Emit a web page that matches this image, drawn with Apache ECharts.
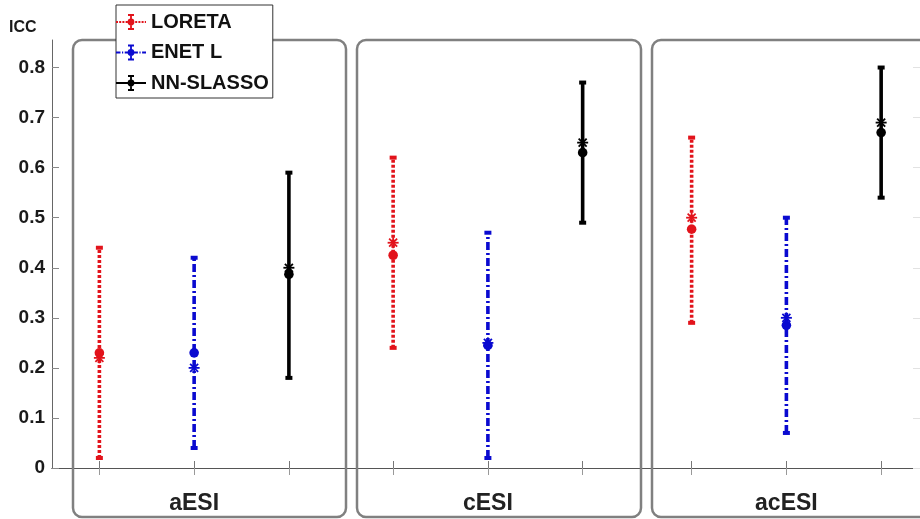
<!DOCTYPE html>
<html>
<head>
<meta charset="utf-8">
<title>ICC by method</title>
<script src="https://cdn.jsdelivr.net/npm/echarts@6/dist/echarts.min.js"></script>
<style>
  html, body { margin: 0; padding: 0; background: #fff; }
  #chart { width: 920px; height: 519px; }
</style>
</head>
<body>
<div id="chart"></div>
<script>
// groups shown in the three boxes
const groups = ['aESI', 'cESI', 'acESI'];
const methods = ['LORETA', 'ENET L', 'NN-SLASSO'];
const yTicks = [0, 0.1, 0.2, 0.3, 0.4, 0.5, 0.6, 0.7, 0.8];

// x position of each error bar on the shared axis
const loretaX = [1, 4.1, 7.25];
const enetX = [2, 5.1, 8.25];
const nnX = [3, 6.1, 9.25];

// ICC: lower end, upper end, mean (dot), median (asterisk)
const loretaLow = [0.02, 0.24, 0.29];
const loretaHigh = [0.44, 0.62, 0.66];
const loretaMean = [0.23, 0.425, 0.477];
const loretaMedian = [0.22, 0.45, 0.50];

const enetLow = [0.04, 0.02, 0.07];
const enetHigh = [0.42, 0.47, 0.50];
const enetMean = [0.23, 0.245, 0.285];
const enetMedian = [0.20, 0.25, 0.30];

const nnLow = [0.18, 0.49, 0.54];
const nnHigh = [0.59, 0.77, 0.80];
const nnMean = [0.387, 0.63, 0.67];
const nnMedian = [0.40, 0.65, 0.69];

const colors = ['#e2131b', '#0a0ad0', '#000000'];
const dashes = [[3, 2], [8, 3, 2, 3], null];
const FONT = 'Liberation Sans, Arial, sans-serif';

const allX = loretaX.concat(enetX, nnX);

function rows(xs, low, high, mean, med) {
  return xs.map((x, i) => [x, low[i], high[i], mean[i], med[i]]);
}

// legend icon: error bar drawn over a short line in the series' style
function rect(x, y, w, h) {
  return `M${x} ${y}h${w}v${h}h${-w}z`;
}
function legendIcon(pattern) {
  let p = '';
  let x = 0, k = 0;
  while (x < 30) {
    const on = pattern ? pattern[k % pattern.length] : 30;
    const off = pattern ? pattern[(k + 1) % pattern.length] : 0;
    p += rect(x, 6.9, Math.min(on, 30 - x), 2.2);
    x += on + off;
    k += 2;
  }
  p += rect(14.1, 1, 1.8, 14);
  p += rect(12, 0, 6, 2);
  p += rect(12, 14, 6, 2);
  p += 'M11.6 8a3.4 3.4 0 1 1 6.8 0a3.4 3.4 0 1 1 -6.8 0z';
  return 'path://' + p;
}
const iconPatterns = [[2, 1.2], [4.5, 1.5, 1.2, 1.5], null];

function errorBar(idx) {
  const color = colors[idx];
  return function (params, api) {
    const x = api.value(0);
    const lo = api.coord([x, api.value(1)]);
    const hi = api.coord([x, api.value(2)]);
    const mn = api.coord([x, api.value(3)]);
    const md = api.coord([x, api.value(4)]);
    const a = 5.5, d = 4;
    const star = [[-a, 0, a, 0], [0, -a, 0, a], [-d, -d, d, d], [-d, d, d, -d]].map(s => ({
      type: 'line',
      shape: { x1: md[0] + s[0], y1: md[1] + s[1], x2: md[0] + s[2], y2: md[1] + s[3] },
      style: { stroke: color, lineWidth: 1.8 }
    }));
    return {
      type: 'group',
      children: [
        {
          type: 'line',
          shape: { x1: lo[0], y1: lo[1], x2: hi[0], y2: hi[1] },
          style: { stroke: color, lineWidth: 3.6, lineDash: dashes[idx] }
        },
        { type: 'rect', shape: { x: hi[0] - 3.5, y: hi[1] - 2, width: 7, height: 4 }, style: { fill: color } },
        { type: 'rect', shape: { x: lo[0] - 3.5, y: lo[1] - 2, width: 7, height: 4 }, style: { fill: color } },
        { type: 'circle', shape: { cx: mn[0], cy: mn[1], r: 4.8 }, style: { fill: color } }
      ].concat(star)
    };
  };
}

const seriesData = [
  rows(loretaX, loretaLow, loretaHigh, loretaMean, loretaMedian),
  rows(enetX, enetLow, enetHigh, enetMean, enetMedian),
  rows(nnX, nnLow, nnHigh, nnMean, nnMedian)
];

const chart = echarts.init(document.getElementById('chart'));

const xRange = { min: 0.5, max: 9.66 };
const yRange = { min: 0, max: 0.855, interval: 0.1 };

const option = {
  animation: false,
  textStyle: { fontFamily: FONT },
  grid: { left: 52, top: 40, width: 870, height: 428 },
  legend: {
    orient: 'vertical',
    left: 116,
    top: 5,
    padding: [7, 4, 5, 0],
    itemGap: 10.5,
    itemWidth: 30,
    itemHeight: 16,
    backgroundColor: '#fff',
    borderColor: '#333',
    borderWidth: 1,
    z: 20,
    textStyle: { fontFamily: FONT, fontWeight: 'bold', fontSize: 20, color: '#111' },
    data: methods.map((m, i) => ({ name: m, icon: legendIcon(iconPatterns[i]) }))
  },
  xAxis: [
    {
      type: 'value',
      position: 'bottom',
      min: xRange.min,
      max: xRange.max,
      axisLine: { show: true, onZero: false, lineStyle: { color: '#555', width: 1 } },
      axisTick: { show: true, inside: true, length: 7, customValues: allX, lineStyle: { color: '#777' } },
      axisLabel: {
        show: true,
        customValues: enetX,
        margin: 24,
        fontSize: 23,
        fontWeight: 'bold',
        color: '#222',
        formatter: v => {
          const i = enetX.findIndex(e => Math.abs(e - v) < 1e-6);
          return i >= 0 ? groups[i] : '';
        }
      },
      splitLine: { show: false }
    },
    {
      type: 'value',
      position: 'top',
      min: xRange.min,
      max: xRange.max,
      axisLine: { show: true, lineStyle: { color: '#555', width: 1 } },
      axisTick: { show: true, inside: true, length: 7, customValues: allX, lineStyle: { color: '#999' } },
      axisLabel: { show: false },
      splitLine: { show: false }
    }
  ],
  yAxis: [
    {
      type: 'value',
      min: yRange.min,
      max: yRange.max,
      interval: yRange.interval,
      axisLine: { show: true, lineStyle: { color: '#666', width: 1 } },
      axisTick: { show: true, inside: true, length: 7, lineStyle: { color: '#888' } },
      axisLabel: {
        margin: 7,
        fontSize: 19,
        fontWeight: 'bold',
        color: '#1a1a1a',
        showMaxLabel: false,
        formatter: v => {
          const t = yTicks.find(t => Math.abs(t - v) < 1e-6);
          if (t === undefined) return '';
          return t === 0 ? '0' : t.toFixed(1);
        }
      },
      splitLine: { show: false }
    },
    {
      type: 'value',
      position: 'right',
      min: yRange.min,
      max: yRange.max,
      interval: yRange.interval,
      axisLine: { show: false },
      axisTick: { show: true, inside: true, length: 7, lineStyle: { color: '#e2e2e2' } },
      axisLabel: { show: false },
      splitLine: { show: false }
    }
  ],
  graphic: [
    { type: 'rect', z: 5, shape: { x: 73, y: 40, width: 273, height: 477, r: 9 }, style: { fill: null, stroke: '#808080', lineWidth: 2.5 } },
    { type: 'rect', z: 5, shape: { x: 357, y: 40, width: 284, height: 477, r: 9 }, style: { fill: null, stroke: '#808080', lineWidth: 2.5 } },
    { type: 'rect', z: 5, shape: { x: 652, y: 40, width: 290, height: 477, r: 9 }, style: { fill: null, stroke: '#808080', lineWidth: 2.5 } },
    { type: 'text', z: 6, x: 9, y: 20, style: { text: 'ICC', font: 'bold 16px ' + FONT, fill: '#1a1a1a' } }
  ],
  series: methods.map((m, i) => ({
    name: m,
    type: 'custom',
    xAxisIndex: 0,
    yAxisIndex: 0,
    z: 10,
    clip: false,
    itemStyle: { color: colors[i] },
    encode: { x: 0, y: [1, 2, 3, 4] },
    renderItem: errorBar(i),
    data: seriesData[i]
  }))
};

chart.setOption(option);
</script>
</body>
</html>
